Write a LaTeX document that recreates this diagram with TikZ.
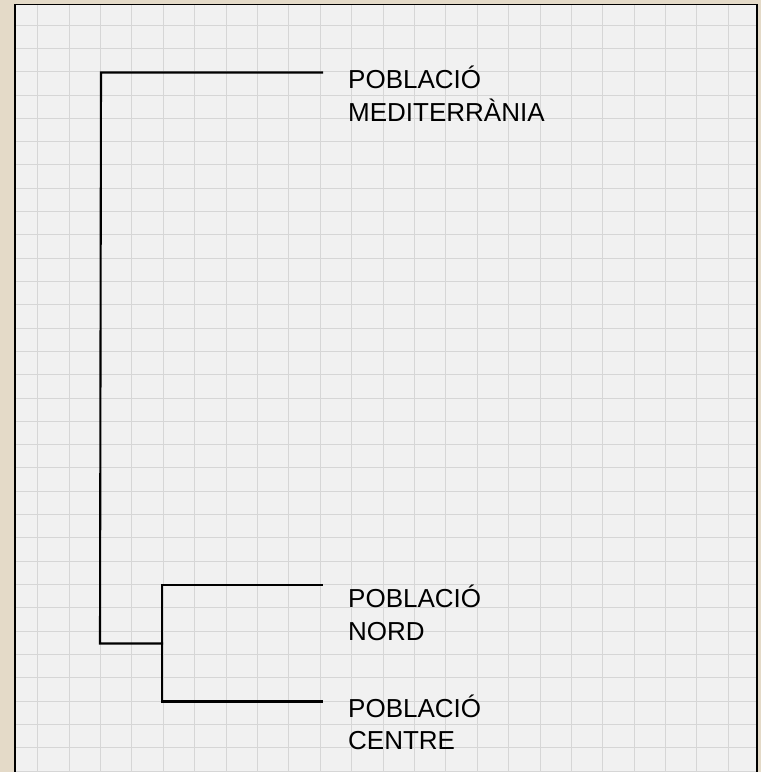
\documentclass[tikz,border=0pt]{standalone}
\usepackage{fontspec}
\setmainfont{Liberation Sans}
\definecolor{beige}{HTML}{E4DAC8}
\definecolor{paper}{HTML}{F1F1F1}
\definecolor{gridc}{HTML}{D6D6D6}
\begin{document}
\begin{tikzpicture}[x=1bp,y=-1bp,
  tree/.style={line width=2.1bp,black,line cap=rect},
  gridline/.style={line width=0.8bp,gridc},
  lbl/.style={anchor=base west,inner sep=0pt,align=left,font=\fontsize{26bp}{32.4bp}\selectfont}]
\useasboundingbox (0,0) rectangle (761,772);
\fill[beige] (0,0) rectangle (761,772);
\fill[paper] (15,4.3) rectangle (757,772);
\foreach \k in {0,...,22} \draw[gridline] ({37.7+31.39*\k},4.3) -- ({37.7+31.39*\k},772);
\foreach \k in {0,...,32} \draw[gridline] (15,{25+23.31*\k}) -- (757,{25+23.31*\k});
\draw[line width=1.4bp,black] (15,772) -- (15,4.3) -- (757,4.3) -- (757,772);
% labels (base anchor = baseline of the last line)
\node[lbl] (med) at (348,121.3) {POBLACIÓ\\MEDITERRÀNIA};
\node[lbl] (nord) at (348,640) {POBLACIÓ\\NORD};
\node[lbl] (centre) at (348,749.5) {POBLACIÓ\\CENTRE};
% tree coordinates
\coordinate (root) at (100,643.5);
\coordinate (rtop) at (101,72.5);
\coordinate (emed) at (322,72.5);
\coordinate (sub) at (162,643.5);
\coordinate (stop) at (162,585);
\coordinate (sbot) at (162,701.5);
\coordinate (enord) at (322,585);
\coordinate (ecentre) at (322,701.5);
\draw[tree] (emed) -- (rtop) -- (root) -- (sub);
\draw[tree] (enord) -- (stop) -- (sbot) -- (ecentre);
\end{tikzpicture}
\end{document}
